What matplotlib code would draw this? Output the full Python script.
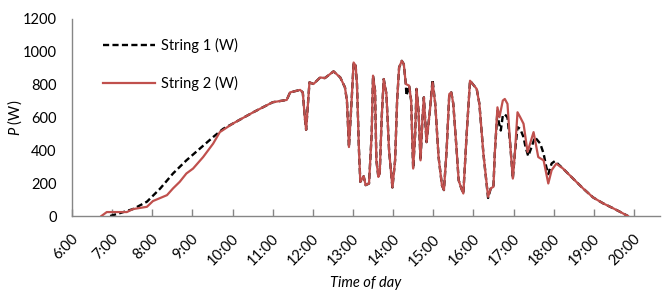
import matplotlib
matplotlib.use("Agg")
import matplotlib.pyplot as plt
import matplotlib.transforms as mtransforms

# ---- data ----
time_s1 = ["6:57", "7:12", "7:31", "7:52", "8:12", "8:31", "8:51", "9:11", "9:31", "9:46",
           "10:00", "10:31", "11:00", "11:21", "11:26", "11:41", "11:45", "11:48", "11:50", "11:52",
           "11:55", "12:01", "12:11", "12:18", "12:31", "12:41", "12:48", "12:51", "12:54", "12:58",
           "13:01", "13:04", "13:06", "13:09", "13:11", "13:14", "13:16", "13:19", "13:24", "13:28",
           "13:30", "13:33", "13:35", "13:38", "13:40", "13:43", "13:46", "13:50", "13:54", "13:59",
           "14:03", "14:06", "14:09", "14:13", "14:16", "14:19", "14:20", "14:24", "14:27", "14:30",
           "14:33", "14:35", "14:38", "14:41", "14:44", "14:46", "14:50", "14:55", "14:59", "15:03",
           "15:08", "15:13", "15:16", "15:20", "15:24", "15:27", "15:30", "15:35", "15:38", "15:42",
           "15:45", "15:50", "15:55", "15:59", "16:05", "16:09", "16:15", "16:22", "16:26", "16:30",
           "16:32", "16:36", "16:38", "16:41", "16:44", "16:47", "16:51", "16:55", "16:59", "17:02",
           "17:06", "17:10", "17:15", "17:18", "17:22", "17:27", "17:32", "17:40", "17:45", "17:49",
           "17:52", "17:57", "18:02", "18:07", "18:14", "18:29", "18:44", "18:59", "19:14", "19:29",
           "19:39", "19:51"]
p_s1 = [0, 18, 42, 87, 168, 259, 339, 410, 481, 531,
        562, 632, 693, 707, 753, 768, 753, 602, 525, 642,
        814, 804, 844, 840, 881, 844, 784, 703, 420, 703,
        935, 915, 804, 400, 208, 228, 242, 188, 198, 501,
        855, 764, 339, 238, 259, 602, 834, 744, 400, 174,
        339, 703, 905, 945, 925, 804, 733, 794, 703, 289,
        501, 774, 642, 339, 602, 723, 450, 642, 830, 683,
        359, 188, 158, 400, 743, 753, 683, 400, 218, 168,
        137, 501, 824, 804, 774, 683, 380, 110, 168, 178,
        380, 640, 571, 521, 612, 620, 600, 441, 228, 380,
        541, 531, 480, 420, 365, 420, 480, 441, 380, 299,
        255, 320, 335, 315, 289, 228, 168, 113, 77, 47,
        26, 0]

time_s2 = ["6:44", "6:52", "7:22", "7:31", "7:52", "8:01", "8:22", "8:31", "8:41", "8:51",
           "9:01", "9:16", "9:31", "9:41", "10:00", "10:31", "11:00", "11:21", "11:26", "11:41",
           "11:45", "11:48", "11:50", "11:52", "11:55", "12:01", "12:11", "12:18", "12:31", "12:41",
           "12:48", "12:51", "12:54", "12:58", "13:01", "13:04", "13:06", "13:09", "13:11", "13:14",
           "13:16", "13:19", "13:24", "13:28", "13:30", "13:33", "13:35", "13:38", "13:40", "13:43",
           "13:46", "13:50", "13:54", "13:59", "14:03", "14:06", "14:09", "14:13", "14:16", "14:19",
           "14:24", "14:27", "14:30", "14:33", "14:35", "14:38", "14:41", "14:44", "14:46", "14:50",
           "14:55", "14:59", "15:03", "15:08", "15:13", "15:16", "15:20", "15:24", "15:27", "15:30",
           "15:35", "15:38", "15:42", "15:45", "15:50", "15:55", "15:59", "16:05", "16:09", "16:15",
           "16:22", "16:26", "16:30", "16:32", "16:36", "16:39", "16:44", "16:47", "16:51", "16:55",
           "16:59", "17:02", "17:06", "17:10", "17:15", "17:21", "17:30", "17:37", "17:45", "17:52",
           "17:57", "18:04", "18:14", "18:29", "18:44", "18:59", "19:14", "19:29", "19:39", "19:51"]
p_s2 = [0, 24, 24, 42, 56, 91, 127, 168, 208, 259,
        289, 359, 441, 511, 562, 632, 693, 707, 753, 768,
        753, 602, 525, 642, 814, 804, 844, 840, 881, 844,
        784, 703, 420, 703, 935, 915, 804, 400, 208, 228,
        242, 188, 198, 501, 855, 764, 339, 238, 259, 602,
        834, 744, 400, 174, 339, 703, 905, 945, 925, 804,
        794, 703, 289, 501, 774, 642, 339, 602, 723, 450,
        642, 814, 683, 359, 188, 158, 400, 743, 753, 683,
        400, 218, 168, 137, 501, 824, 804, 774, 683, 380,
        117, 168, 178, 380, 662, 602, 703, 713, 683, 441,
        228, 380, 632, 602, 562, 390, 511, 359, 339, 198,
        279, 319, 289, 228, 168, 113, 77, 47, 26, 0]

tick_hours = list(range(6, 21))
tick_labels = [f"{h}:00" for h in tick_hours]
y_ticks = [0, 200, 400, 600, 800, 1000, 1200]

series_names = ["String 1 (W)", "String 2 (W)"]


def to_hours(s):
    h, m = s.split(":")
    return int(h) + int(m) / 60.0


plt.rcParams['font.family'] = ['Lato', 'DejaVu Sans']
plt.rcParams['mathtext.fontset'] = 'custom'
plt.rcParams['mathtext.rm'] = 'Lato'
plt.rcParams['mathtext.it'] = 'Lato:italic'
FS = 10.5

fig = plt.figure(figsize=(6.65, 2.94), dpi=100)
ax = fig.add_axes([72 / 665, 1 - 216 / 294, (660 - 72) / 665, (216 - 19) / 294])

x1 = [to_hours(t) for t in time_s1]
x2 = [to_hours(t) for t in time_s2]
ax.plot(x1, p_s1, color="black", lw=1.7, linestyle=(0, (2.6, 1.4)), label=series_names[0], zorder=2)
ax.plot(x2, p_s2, color="#C0504D", lw=1.6, label=series_names[1], zorder=3)

ax.set_xlim(6, 20.65)
ax.set_ylim(0, 1200)
ax.set_yticks(y_ticks)
ax.set_yticklabels([str(v) for v in y_ticks], fontsize=FS)
ax.set_xticks(tick_hours)
ax.set_xticklabels([])

# rotated hour labels, right end anchored just below/right of each tick
lab_tr = ax.get_xaxis_transform() + mtransforms.ScaledTranslation(4 / 100, -21 / 100, fig.dpi_scale_trans)
for h, lab in zip(tick_hours, tick_labels):
    ax.text(h, 0, lab, transform=lab_tr, fontsize=FS, rotation=45, ha="right",
            va="center", rotation_mode="anchor", clip_on=False)

ax.tick_params(axis="y", length=0, pad=11)
ax.tick_params(axis="x", direction="in", length=5, width=1, color="#868686")

for side in ["top", "right"]:
    ax.spines[side].set_visible(False)
for side in ["left", "bottom"]:
    ax.spines[side].set_color("#868686")
    ax.spines[side].set_linewidth(1)

ax.set_ylabel("$\\it{P}$ (W)", fontsize=FS)
ax.yaxis.set_label_coords((15 - 72) / 588, 0.5)
ax.yaxis.label.set_va("center")
ax.set_xlabel("Time of day", fontsize=FS, fontstyle="italic")
ax.xaxis.set_label_coords(0.5, -(283 - 216) / 197)
ax.xaxis.label.set_va("center")

leg = ax.legend(loc="upper left", bbox_to_anchor=(0.030, 0.97), frameon=False,
                fontsize=FS, handlelength=3.57, labelspacing=1.6, handletextpad=0.42)

fig.savefig("out.png", dpi=100)
